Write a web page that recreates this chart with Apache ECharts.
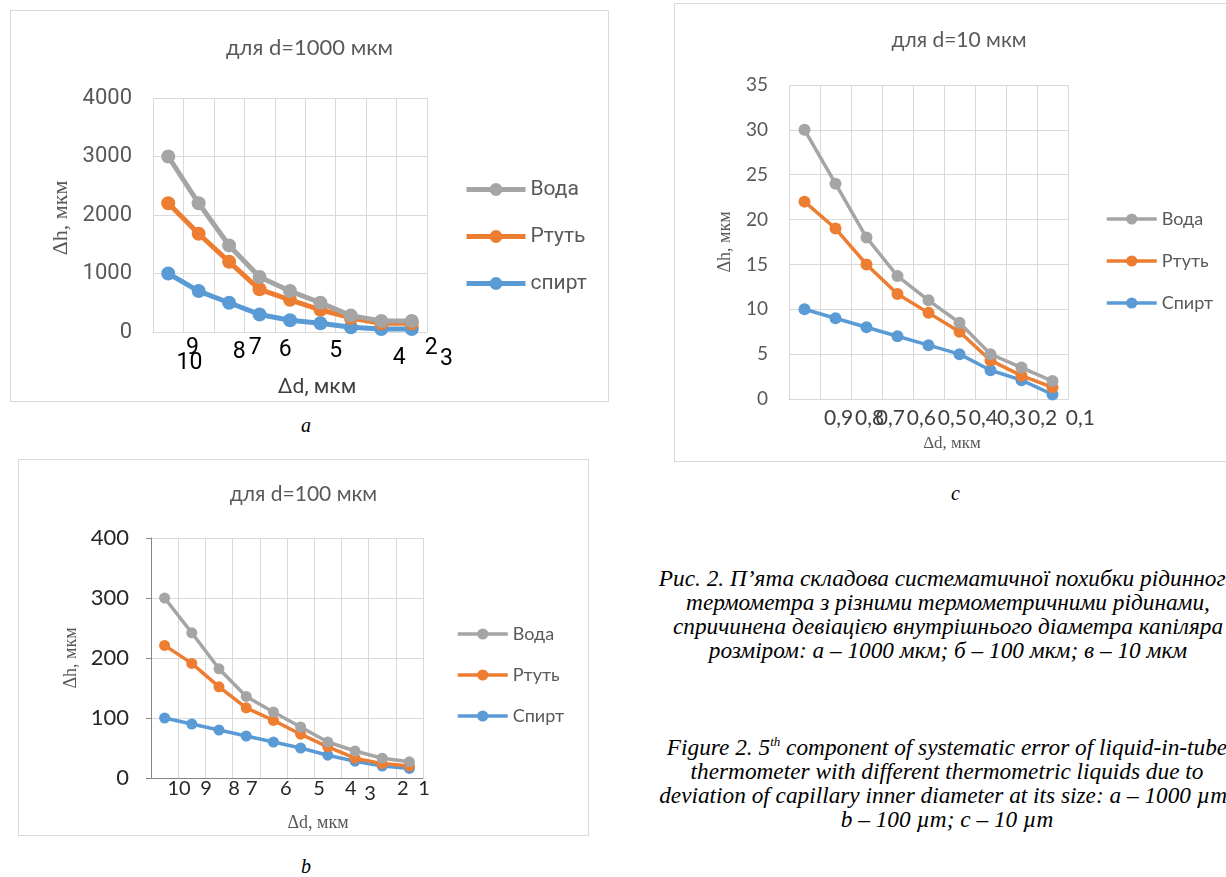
<!DOCTYPE html>
<html>
<head>
<meta charset="utf-8">
<script src="https://cdn.jsdelivr.net/npm/echarts@6/dist/echarts.min.js"></script>
<style>
  html, body { margin: 0; padding: 0; background: #fff; width: 1226px; height: 877px; overflow: hidden; }
  .box { position: absolute; box-sizing: border-box; border: 1px solid #d9d9d9; background: #fff; }
  .cap { position: absolute; font-family: 'Liberation Serif', serif; font-style: italic; color: #000;
         text-align: center; white-space: nowrap; }
  .letter { position: absolute; font-family: 'Liberation Serif', serif; font-style: italic; font-size: 20px; }
</style>
</head>
<body>
<div id="chartA" class="box" style="left:10px;top:10px;width:599px;height:392px"></div>
<div id="chartB" class="box" style="left:18px;top:459px;width:571px;height:377px"></div>
<div id="chartC" class="box" style="left:674px;top:3px;width:570px;height:459px"></div>

<div class="letter" style="left:301px;top:414px">a</div>
<div class="letter" style="left:301px;top:855px">b</div>
<div class="letter" style="left:951px;top:482px">c</div>

<div class="cap" style="left:598px;top:566px;width:700px;font-size:23.3px;line-height:24px">
Рис. 2. П’ята складова систематичної похибки рідинного<br>
термометра з різними термометричними рідинами,<br>
спричинена девіацією внутрішнього діаметра капіляра<br>
розміром: а – 1000 мкм; б – 100 мкм; в – 10 мкм
</div>
<div class="cap" style="left:597px;top:735px;width:700px;font-size:23.3px;line-height:24px">
Figure 2. 5<sup style="font-size:13px;line-height:0">th</sup> component of systematic error of liquid-in-tube<br>
thermometer with different thermometric liquids due to<br>
deviation of capillary inner diameter at its size: a – 1000 µm;<br>
b – 100 µm; c – 10 µm
</div>

<script>
// chart a: d = 1000 мкм
const waterA = [3000, 2200, 1480, 940, 700, 500, 280, 190, 190];
const mercuryA = [2200, 1680, 1200, 730, 550, 380, 240, 150, 150];
const spiritA = [1000, 700, 500, 300, 200, 150, 80, 50, 50];
const xLabelsA = ['10', '9', '8', '7', '6', '5', '4', '2', '3'];
const xLabelPosA = [1.2, 1.3, 2.83, 3.36, 4.34, 6.0, 8.09, 9.14, 9.64];
const xLabelDropA = [31, 16, 20, 16, 18, 19, 26, 16, 27];

// chart b: d = 100 мкм
const waterB = [300, 242, 182, 136, 110, 85, 60, 45, 33, 27];
const mercuryB = [221, 191, 152, 117, 96, 73, 52, 33, 24, 20];
const spiritB = [100, 90, 80, 70, 60, 50, 38, 28, 20, 16];
const xLabelsB = ['10', '9', '8', '7', '6', '5', '4', '3', '2', '1'];
const xLabelPosB = [1.03, 2.02, 3.05, 3.71, 4.96, 6.18, 7.35, 8.05, 9.26, 10.04];
const xLabelDropB = [11, 11, 11, 11, 11, 11, 11, 16, 11, 11];

// chart c: d = 10 мкм
const waterC = [30, 24, 18, 13.7, 11, 8.5, 5, 3.5, 2];
const mercuryC = [22, 19, 15, 11.7, 9.6, 7.5, 4.3, 2.6, 1.3];
const spiritC = [10, 9, 8, 7, 6, 5, 3.2, 2.1, 0.5];
const xLabelsC = ['0,9', '0,8', '0,7', '0,6', '0,5', '0,4', '0,3', '0,2', '0,1'];
const xLabelPosC = [1.6, 2.6, 3.27, 4.27, 5.27, 6.27, 7.18, 8.18, 9.4];
const xLabelDropC = [19, 19, 19, 19, 19, 19, 19, 19, 19];

const GRAY = '#a5a5a5', ORANGE = '#ed7d31', BLUE = '#5b9bd5';
const NARROW = "Roboto, sans-serif";
const SANS = "Lato, 'Open Sans', sans-serif";
const SERIF = "'Liberation Serif', serif";

function lineSeries(name, data, color, width, size, z) {
  return {
    name, type: 'line', data, z,
    symbol: 'circle', symbolSize: size,
    lineStyle: { color, width },
    itemStyle: { color, borderWidth: 0 },
    animation: false
  };
}

function build(id, c) {
  const chart = echarts.init(document.getElementById(id));
  const n = c.water.length;
  const colW = c.grid.width / n;
  const bottom = c.grid.top + c.grid.height;
  const cats = c.water.map((_, i) => String(i + 1));

  // Excel placed the category labels off their ticks; keep them where the picture has them
  const texts = c.xLabels.map((t, i) => ({
    type: 'text',
    x: c.grid.left + c.xPos[i] * colW,
    y: bottom + c.xDrop[i],
    style: { text: t, fill: c.xLabelColor, fontSize: c.xLabelSize, fontFamily: c.xLabelFont,
             align: 'center', verticalAlign: 'middle' }
  }));
  texts.push({
    type: 'text', x: c.dName[0], y: c.dName[1],
    style: { text: 'Δd, мкм', fill: c.dNameColor, fontSize: c.dNameSize, fontFamily: c.dNameFont,
             align: 'center', verticalAlign: 'middle' }
  });
  texts.push({
    type: 'text', x: c.hName[0], y: c.hName[1], rotation: Math.PI / 2,
    style: { text: 'Δh, мкм', fill: '#595959', fontSize: c.hNameSize, fontFamily: SERIF,
             align: 'center', verticalAlign: 'middle' }
  });

  chart.setOption({
    animation: false,
    title: {
      text: c.title, left: 'center', top: c.titleTop, padding: 0,
      textStyle: { color: '#595959', fontWeight: 'normal', fontSize: c.titleSize, fontFamily: SANS }
    },
    legend: {
      orient: 'vertical', left: c.legend.left, top: c.legend.top, padding: 0,
      itemWidth: c.legend.itemWidth, itemHeight: c.legend.itemHeight, itemGap: c.legend.gap,
      data: ['Вода', 'Ртуть', c.spiritName],
      lineStyle: { width: c.lineWidth },
      textStyle: { color: '#595959', fontSize: c.legend.fontSize, fontFamily: c.legend.font }
    },
    grid: { left: c.grid.left, top: c.grid.top, width: c.grid.width, height: c.grid.height, containLabel: false },
    xAxis: {
      type: 'category', data: cats, boundaryGap: true,
      axisLine: { show: true, lineStyle: { color: c.xAxisColor, width: 1 } },
      axisTick: { show: false },
      axisLabel: { show: false },
      splitLine: { show: true, lineStyle: { color: '#d9d9d9', width: 1 } }
    },
    yAxis: {
      type: 'value', min: 0, max: c.yMax, interval: c.yStep,
      axisLine: { show: c.yAxisLine, lineStyle: { color: '#868686' } },
      axisTick: { show: c.yAxisLine, length: 5, lineStyle: { color: '#868686' } },
      axisLabel: { color: c.yLabelColor, fontSize: c.yLabelSize, fontFamily: c.yLabelFont,
                   margin: c.yLabelMargin, formatter: v => String(v) },
      splitLine: { show: true, lineStyle: { color: '#d9d9d9', width: 1 } }
    },
    series: [
      lineSeries('Вода', c.water, GRAY, c.lineWidth, c.symbolSize, 4),
      lineSeries('Ртуть', c.mercury, ORANGE, c.lineWidth, c.symbolSize, 3),
      lineSeries(c.spiritName, c.spirit, BLUE, c.lineWidth, c.symbolSize, 2)
    ],
    graphic: texts
  });
  return chart;
}

build('chartA', {
  title: 'для d=1000 мкм', titleTop: 26, titleSize: 22,
  water: waterA, mercury: mercuryA, spirit: spiritA, spiritName: 'спирт',
  xLabels: xLabelsA, xPos: xLabelPosA, xDrop: xLabelDropA,
  xLabelColor: '#000', xLabelSize: 23, xLabelFont: NARROW,
  grid: { left: 142, top: 87, width: 274, height: 234 },
  yMax: 4000, yStep: 1000, yAxisLine: false,
  yLabelColor: '#595959', yLabelSize: 22, yLabelFont: NARROW, yLabelMargin: 21,
  xAxisColor: '#d9d9d9',
  lineWidth: 5, symbolSize: 14,
  legend: { left: 453, top: 168, itemWidth: 59, itemHeight: 16, gap: 26, fontSize: 21, font: NARROW },
  dName: [306, 377], dNameColor: '#404040', dNameSize: 21, dNameFont: NARROW,
  hName: [50, 207], hNameSize: 22
});

build('chartB', {
  title: 'для d=100 мкм', titleTop: 24, titleSize: 21,
  water: waterB, mercury: mercuryB, spirit: spiritB, spiritName: 'Спирт',
  xLabels: xLabelsB, xPos: xLabelPosB, xDrop: xLabelDropB,
  xLabelColor: '#262626', xLabelSize: 20, xLabelFont: SANS,
  grid: { left: 132, top: 78, width: 272, height: 240 },
  yMax: 400, yStep: 100, yAxisLine: true,
  yLabelColor: '#262626', yLabelSize: 22, yLabelFont: SANS, yLabelMargin: 22,
  xAxisColor: '#868686',
  lineWidth: 3.5, symbolSize: 11,
  legend: { left: 437, top: 165, itemWidth: 50, itemHeight: 14, gap: 23, fontSize: 18, font: SANS },
  dName: [299, 363], dNameColor: '#595959', dNameSize: 18, dNameFont: SERIF,
  hName: [52, 198], hNameSize: 18
});

build('chartC', {
  title: 'для d=10 мкм', titleTop: 26, titleSize: 21,
  water: waterC, mercury: mercuryC, spirit: spiritC, spiritName: 'Спирт',
  xLabels: xLabelsC, xPos: xLabelPosC, xDrop: xLabelDropC,
  xLabelColor: '#404040', xLabelSize: 21, xLabelFont: SANS,
  grid: { left: 114, top: 81, width: 279, height: 314 },
  yMax: 35, yStep: 5, yAxisLine: false,
  yLabelColor: '#595959', yLabelSize: 19, yLabelFont: SANS, yLabelMargin: 21,
  xAxisColor: '#d9d9d9',
  lineWidth: 3.5, symbolSize: 12,
  legend: { left: 430, top: 206, itemWidth: 50, itemHeight: 14, gap: 24, fontSize: 18, font: SANS },
  dName: [277, 440], dNameColor: '#595959', dNameSize: 17, dNameFont: SERIF,
  hName: [50, 238], hNameSize: 18
});
</script>
</body>
</html>
